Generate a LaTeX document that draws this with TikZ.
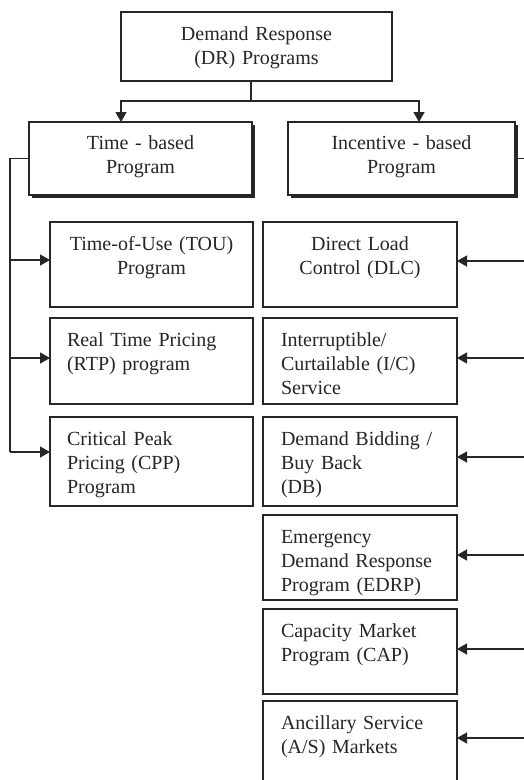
\documentclass[tikz,border=0pt]{standalone}
\usepackage{fontspec}
\setmainfont{Liberation Serif}
\usetikzlibrary{arrows.meta, shadows}

\begin{document}
\begin{tikzpicture}[x=1pt, y=-1pt]
\tikzset{ >={Triangle[length=10pt, width=11pt]}, inner sep=0pt, outer sep=0pt,
  every node/.style={font=\fontsize{20}{24}\selectfont, text=black!85},
  link/.style={draw=black!85, line width=1.3pt},
  head/.style={draw=black!85, fill=white, line width=1.4pt, anchor=north west,
               align=center, text height=28pt},
  kind/.style={head, text height=27pt, text depth=46pt,
               drop shadow={shadow xshift=3pt, shadow yshift=-3pt, fill=black!85, opacity=1}},
  lprog/.style={draw=black!85, fill=white, line width=1.4pt, anchor=north west,
                inner xsep=17pt, text width=169pt, align=left, text height=28pt},
  rprog/.style={lprog, inner xsep=18pt, text width=158pt},
}

\useasboundingbox (0,0) rectangle (524,780);

%\draw [lightgray, dashed](0,0) grid[step=20] (524,780);

% top
\node [head, text width=271pt, text depth=41pt] (dr) at (121,12) {Demand Response\\(DR) Programs};

% two kinds of program
\node [kind, text width=223pt] (tb) at (29,122) {Time - based\\Program};
\node [kind, text width=227pt] (ib) at (288,122) {Incentive - based\\Program};

% time based programs
\node [lprog, align=center, text depth=57pt] (tou) at (50,222) {Time-of-Use (TOU)\\Program};
\node [lprog, text depth=58pt] (rtp) at (50,318) {Real Time Pricing\\(RTP) program};
\node [lprog, text depth=61pt] (cpp) at (50,417) {Critical Peak\\Pricing (CPP)\\Program};

% incentive based programs
\node [rprog, align=center, text depth=57pt] (dlc) at (263,222) {Direct Load\\Control (DLC)};
\node [rprog, text depth=58pt] (ic) at (263,318) {Interruptible/\\Curtailable (I/C)\\Service};
\node [rprog, text depth=61pt] (db) at (263,417) {Demand Bidding /\\Buy Back\\(DB)};
\node [rprog, text depth=57pt] (edrp) at (263,515) {Emergency\\Demand Response\\Program (EDRP)};
\node [rprog, text depth=57pt] (cap) at (263,609) {Capacity Market\\Program (CAP)};
\node [rprog, text depth=52pt] (asm) at (263,701) {Ancillary Service\\(A/S) Markets};

% split
\coordinate (fork) at (251,101);
\draw [link] (fork |- dr.south) -- (fork);
\draw [link, ->] (fork) -| ([xshift=-19.5pt]tb.north);
\draw [link, ->] (fork) -| ([xshift=17.5pt]ib.north);

% left bus
\coordinate (lbus) at (10,452);
\draw [link] (tb.west) -| (lbus);
\foreach \n/\y in {tou/260, rtp/358, cpp/452}
  \draw [link, ->] (10,\y) -- (\n.west |- 10,\y);

% right bus (runs off the page)
\coordinate (rbus) at (530,738);
\draw [link] (ib.east) -| (rbus);
\foreach \n/\y in {dlc/261, ic/358, db/457, edrp/555, cap/649, asm/738}
  \draw [link, ->] (530,\y) -- (\n.east |- 530,\y);

\end{tikzpicture}
\end{document}
